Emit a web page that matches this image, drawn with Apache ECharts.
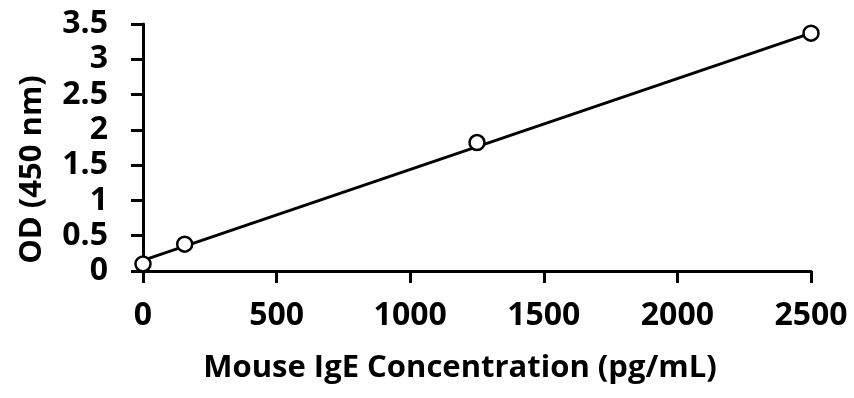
<!DOCTYPE html>
<html>
<head>
<meta charset="utf-8">
<script src="https://cdn.jsdelivr.net/npm/echarts@6/dist/echarts.min.js"></script>
<style>
  html, body { margin: 0; padding: 0; background: #fff; }
  #chart { width: 854px; height: 398px; }
</style>
</head>
<body>
<div id="chart"></div>
<script>
// standard curve readings
var concentration = [0, 156, 1250, 2500];
var odValues = [0.1, 0.38, 1.82, 3.37];
// fitted line end points
var fitX = [0, 2500];
var fitY = [0.15, 3.37];

var xTitle = 'Mouse IgE Concentration (pg/mL)';
var yTitle = 'OD (450 nm)';

var FONT = '"Open Sans", sans-serif';

var points = concentration.map(function (c, i) { return [c, odValues[i]]; });
var fitLine = fitX.map(function (c, i) { return [c, fitY[i]]; });

var chart = echarts.init(document.getElementById('chart'), null, { renderer: 'canvas' });

chart.setOption({
  animation: false,
  backgroundColor: '#fff',
  grid: { left: 143, right: 43, top: 24, bottom: 127 },
  xAxis: {
    type: 'value',
    min: 0,
    max: 2500,
    interval: 500,
    name: xTitle,
    nameLocation: 'middle',
    nameGap: 82,
    nameTextStyle: { fontFamily: FONT, fontWeight: 'bold', fontSize: 31, color: '#000', padding: [0, 34, 0, 0] },
    axisLine: { lineStyle: { color: '#000', width: 3 } },
    axisTick: { show: true, length: 12, lineStyle: { color: '#000', width: 3 } },
    axisLabel: {
      margin: 29, fontFamily: FONT, fontWeight: 'bold', fontSize: 32, color: '#000',
      formatter: function (v) { return String(v); }
    },
    splitLine: { show: false }
  },
  yAxis: {
    type: 'value',
    min: 0,
    max: 3.5,
    interval: 0.5,
    name: yTitle,
    nameLocation: 'middle',
    nameGap: 95,
    nameRotate: 90,
    nameTextStyle: { fontFamily: FONT, fontWeight: 'bold', fontSize: 31, color: '#000', padding: [0, 44, 0, 0] },
    axisLine: { show: true, lineStyle: { color: '#000', width: 3 } },
    axisTick: { show: true, length: 12, lineStyle: { color: '#000', width: 3 } },
    axisLabel: {
      margin: 35, fontFamily: FONT, fontWeight: 'bold', fontSize: 32, color: '#000',
      formatter: function (v) { return String(v); }
    },
    splitLine: { show: false }
  },
  series: [
    {
      name: 'fit',
      type: 'line',
      data: fitLine,
      showSymbol: false,
      lineStyle: { color: '#000', width: 3 },
      z: 2
    },
    {
      name: 'OD',
      type: 'scatter',
      data: points,
      symbol: 'circle',
      symbolSize: 15,
      itemStyle: { color: '#fff', borderColor: '#000', borderWidth: 2.5, opacity: 1 },
      z: 3
    }
  ]
});
</script>
</body>
</html>
